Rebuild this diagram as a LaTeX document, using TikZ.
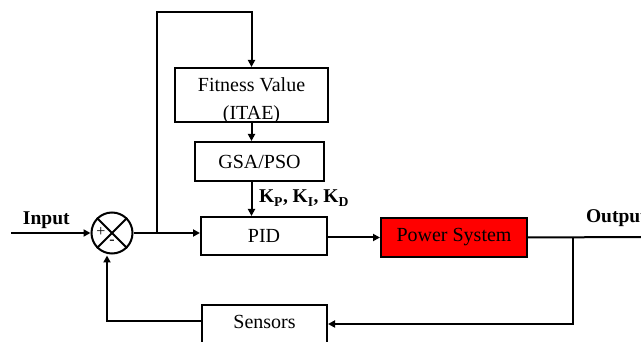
\documentclass[tikz,border=0pt]{standalone}
\usepackage{fontspec}
\setmainfont{Liberation Serif}
\usetikzlibrary{arrows.meta}
\begin{document}
\begin{tikzpicture}[x=1pt,y=-1pt,
  font=\fontsize{20}{24}\selectfont,
  line width=2pt,
  blk/.style={draw, rectangle, inner sep=0pt, line width=2pt},
  arr/.style={-{Triangle[length=7pt,width=7pt]}},
  lbl/.style={font=\fontsize{19.5}{22}\selectfont\bfseries, inner sep=0pt, anchor=base west}]
\useasboundingbox (0,0) rectangle (641,342);
% blocks
\node[blk, minimum width=153pt, minimum height=54pt] (fit) at (251.5,95) {};
\node[anchor=base, inner sep=0pt] (fittxt) at (251.5,92) {Fitness Value};
\begin{scope}
\clip (176,69) rectangle (327,121);
\node[anchor=base, inner sep=0pt] (itae) at (251.5,120) {(ITAE)};
\end{scope}
\node[blk, minimum width=129pt, minimum height=39pt] (gsa) at (259.5,161.5) {GSA/PSO};
\node[blk, minimum width=126pt, minimum height=38pt] (pid) at (264,236) {PID};
\node[blk, fill=red, minimum width=146pt, minimum height=39pt] (ps) at (454,237.5) {Power System};
\node[blk, minimum width=125pt, minimum height=42pt] (sen) at (264.5,326) {};
\node[inner sep=0pt] (sentxt) at (264.5,322) {Sensors};
% summing junction
\node[draw, circle, minimum size=41pt, inner sep=0pt, line width=2pt] (sum) at (112,233) {};
\draw (sum.north west) -- (sum.south east);
\draw (sum.north east) -- (sum.south west);
\node[inner sep=0pt, font=\fontsize{16}{18}\selectfont] (plus) at (101,232) {+};
\node[inner sep=0pt, font=\fontsize{16}{18}\selectfont] (minus) at (112,242) {-};
% coordinates
\coordinate (in) at (11,233);
\coordinate (j1) at (157,233);
\coordinate (top) at (157,12);
\coordinate (j2) at (573,237);
\coordinate (out) at (641,237);
\coordinate (fb) at (573,324);
\coordinate (sb) at (107,321);
% connectors
\draw[arr] (in) -- (sum.west);
\draw (sum.east) -- (j1);
\draw[arr] (j1) -- (pid.west |- j1);
\draw[arr] (j1) -- (top) -| (fit.north);
\draw[arr] (fit.south) -- (fit.south |- gsa.north);
\draw[arr] (fit.south |- gsa.south) -- (fit.south |- pid.north);
\draw[arr] (pid.east |- ps.west) -- (ps.west);
\draw (ps.east) -- (out);
\draw[arr] (j2) -- (fb) -- (sen.east |- fb);
\draw[arr] (sen.west |- sb) -- (sb) -- ([yshift=-1pt]sb |- sum.south);
% labels
\node[lbl] (kl) at (258,203) {K\textsubscript{P}, K\textsubscript{I}, K\textsubscript{D}};
\node[lbl] (inl) at (22,225) {Input};
\node[lbl] (outl) at (585,223) {Output};
\end{tikzpicture}
\end{document}
